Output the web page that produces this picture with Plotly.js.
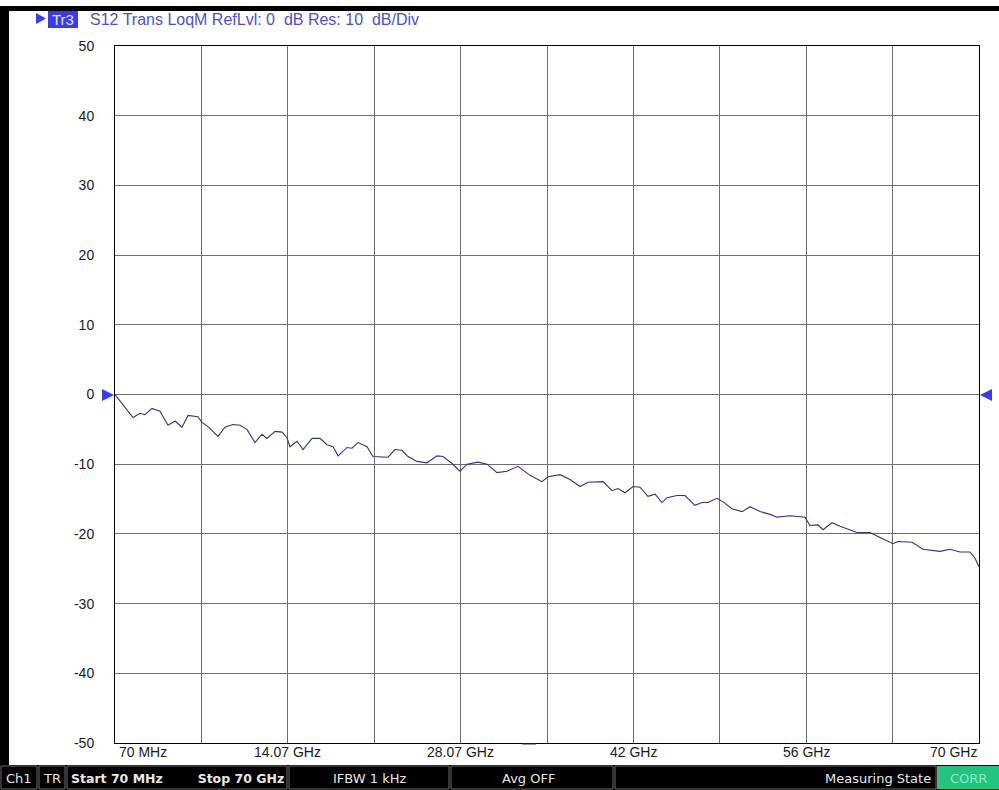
<!DOCTYPE html>
<html>
<head>
<meta charset="utf-8">
<script src="https://cdn.plot.ly/plotly-3.0.1.min.js"></script>
<style>
html,body{margin:0;padding:0;background:#fff;}
#chart{width:999px;height:790px;}
</style>
</head>
<body>
<div id="chart"></div>
<script>
// Frequency (GHz) and S12 magnitude (dB)
const freqGHz = [0.07,1.53,2.09,2.50,3.06,3.71,4.36,4.93,5.49,5.98,6.79,7.11,7.60,8.41,8.97,9.62,10.19,10.75,11.40,11.97,12.37,13.02,13.59,13.99,14.23,14.80,15.29,16.02,16.66,17.23,17.72,18.12,18.85,19.25,19.74,20.47,20.95,21.76,22.17,22.73,23.30,23.79,24.51,25.32,26.13,26.62,27.35,27.99,28.56,29.45,30.18,30.99,31.80,32.69,33.66,34.63,35.12,36.09,36.90,37.71,38.35,39.57,40.30,40.78,41.35,42.00,42.56,43.21,43.78,44.34,44.75,45.56,46.20,47.01,47.58,48.07,48.80,49.28,50.01,50.82,51.47,52.28,53.09,53.65,54.70,55.92,56.32,56.97,57.38,58.11,58.75,60.13,61.18,61.99,63.04,63.45,64.58,65.47,66.85,67.65,68.46,69.27,69.68,70.0];
const s12dB = [0,-3.3,-2.7,-2.9,-2.0,-2.4,-4.4,-3.8,-4.7,-3.0,-3.2,-4.0,-4.6,-6.0,-4.7,-4.3,-4.4,-5.0,-6.9,-5.7,-6.3,-5.3,-5.4,-6.2,-7.5,-6.7,-7.9,-6.3,-6.3,-7.2,-7.5,-8.8,-7.6,-7.7,-6.9,-7.5,-8.9,-8.9,-9.0,-7.9,-8.0,-8.9,-9.6,-9.8,-8.8,-8.9,-9.9,-11.0,-10.0,-9.7,-10.0,-11.2,-11.0,-10.3,-11.6,-12.5,-11.8,-11.5,-12.2,-13.2,-12.6,-12.5,-13.8,-13.5,-14.1,-13.2,-13.3,-14.6,-14.3,-15.5,-14.8,-14.5,-14.5,-15.9,-15.5,-15.5,-14.9,-15.4,-16.4,-16.8,-16.1,-16.8,-17.2,-17.6,-17.4,-17.6,-18.8,-18.7,-19.4,-18.4,-18.9,-19.8,-19.8,-20.5,-21.4,-21.1,-21.2,-22.2,-22.5,-22.2,-22.6,-22.6,-23.5,-24.7];

const yTicks = [-50,-40,-30,-20,-10,0,10,20,30,40,50];
const yTickText = ['-50','-40','-30','-20','-10','0','10','20','30','40','50'];
const fStart = 0.07, fStop = 70;
const xGrid = [0,1,2,3,4,5,6,7,8,9,10].map(k => fStart + k*(fStop-fStart)/10);
const xLabelText = ['70 MHz','14.07 GHz','28.07 GHz','42 GHz','56 GHz','70 GHz'];
const xLabelDiv = [0,2,4,6,8,10];
const headerText = 'S12 Trans LoqM RefLvl: 0  dB Res: 10  dB/Div';
const statusCells = [
  {x0:0,x1:38,text:'Ch1',bold:false,align:'center'},
  {x0:38,x1:66,text:'TR',bold:false,align:'center'},
  {x0:66,x1:288,text:'Start 70 MHz&nbsp;&nbsp;&nbsp;&nbsp;&nbsp;&nbsp;&nbsp;&nbsp;Stop 70 GHz',bold:true,align:'center'},
  {x0:288,x1:450,text:'IFBW 1 kHz',bold:false,align:'center'},
  {x0:450,x1:614,text:'Avg OFF',bold:false,align:'left'},
  {x0:614,x1:937,text:'Measuring State',bold:false,align:'right'}
];

const L=115, R=979, T=46, B=743;
const px = v => (v-L)/(R-L);
const py = v => (B-v)/(B-T);

const shapes = [];
const annotations = [];
const sFont = 'DejaVu Sans, Verdana, sans-serif';
const aFont = 'Liberation Sans, Arial, sans-serif';

// outer black frame
shapes.push({type:'rect',xref:'paper',yref:'paper',x0:px(0),x1:px(999),y0:py(11),y1:py(6),fillcolor:'#000',line:{width:0},layer:'above'});
shapes.push({type:'rect',xref:'paper',yref:'paper',x0:px(0),x1:px(9),y0:py(765),y1:py(6),fillcolor:'#000',line:{width:0},layer:'above'});

// status bar
shapes.push({type:'rect',xref:'paper',yref:'paper',x0:px(0),x1:px(999),y0:py(790),y1:py(765),fillcolor:'#000',line:{width:0},layer:'above'});
statusCells.forEach(c => {
  shapes.push({type:'rect',xref:'paper',yref:'paper',x0:px(c.x0+1),x1:px(c.x1-1),y0:py(789),y1:py(766),fillcolor:'#000',line:{color:'#6a6a6a',width:1},layer:'above'});
  let ax, xa;
  if (c.align==='center'){ax=(c.x0+c.x1)/2; xa='center';}
  else if (c.align==='left'){ax=c.x0+50; xa='left';}
  else {ax=c.x1-4; xa='right';}
  annotations.push({xref:'paper',yref:'paper',x:px(ax),y:py(778),xanchor:xa,yanchor:'middle',showarrow:false,
    text: c.bold ? '<b>'+c.text+'</b>' : c.text,
    font:{family:sFont,size:c.bold?12.5:13,color:'#e8e8e8'}});
});
shapes.push({type:'rect',xref:'paper',yref:'paper',x0:px(937),x1:px(999),y0:py(789),y1:py(766),fillcolor:'#22c47f',line:{width:0},layer:'above'});
annotations.push({xref:'paper',yref:'paper',x:px(968),y:py(778),xanchor:'center',yanchor:'middle',showarrow:false,text:'CORR',font:{family:sFont,size:13,color:'#8fe8bd'}});

// header
shapes.push({type:'path',xref:'paper',yref:'paper',path:`M ${px(36)} ${py(13)} L ${px(46)} ${py(18.5)} L ${px(36)} ${py(24)} Z`,fillcolor:'#3a3af0',line:{width:0}});
shapes.push({type:'rect',xref:'paper',yref:'paper',x0:px(48),x1:px(78),y0:py(28),y1:py(11),fillcolor:'#3a3af0',line:{width:0}});
annotations.push({xref:'paper',yref:'paper',x:px(63),y:py(19.5),xanchor:'center',yanchor:'middle',showarrow:false,text:'Tr3',font:{family:aFont,size:15,color:'#e6e6ff'}});
annotations.push({xref:'paper',yref:'paper',x:px(88),y:py(19.5),xanchor:'left',yanchor:'middle',showarrow:false,text:headerText,font:{family:aFont,size:16,color:'#5050c8'}});

// reference level markers
shapes.push({type:'path',xref:'paper',yref:'paper',path:`M ${px(102)} ${py(389)} L ${px(114)} ${py(395)} L ${px(102)} ${py(401)} Z`,fillcolor:'#3a3af0',line:{width:0}});
shapes.push({type:'path',xref:'paper',yref:'paper',path:`M ${px(992)} ${py(389)} L ${px(980)} ${py(395)} L ${px(992)} ${py(401)} Z`,fillcolor:'#3a3af0',line:{width:0}});
// small marker dash below axis
shapes.push({type:'line',xref:'paper',yref:'paper',x0:px(522),x1:px(536),y0:py(744),y1:py(744),line:{color:'#333',width:1}});

// x labels
xLabelDiv.forEach((d,i) => {
  const xv = px(L + d*(R-L)/10);
  let xa = 'center';
  let xx = xv;
  if (i===0){xa='left'; xx=px(117);}
  if (i===xLabelDiv.length-1){xa='right'; xx=px(979);}
  annotations.push({xref:'paper',yref:'paper',x:xx,y:py(752),xanchor:xa,yanchor:'middle',showarrow:false,text:xLabelText[i],font:{family:aFont,size:14,color:'#1a1a1a'}});
});

const trace = {
  x: freqGHz, y: s12dB, type:'scatter', mode:'lines',
  line:{color:'#33337a',width:1.1}, hoverinfo:'skip'
};

const layout = {
  width:999, height:790,
  margin:{l:L,r:999-R,t:T,b:790-B,pad:0},
  paper_bgcolor:'#ffffff', plot_bgcolor:'#ffffff',
  showlegend:false,
  xaxis:{range:[fStart,fStop],tickvals:xGrid,showticklabels:false,ticks:'',
    showgrid:true,gridcolor:'#6e6e6e',gridwidth:1,zeroline:false,
    showline:true,linecolor:'#000',linewidth:1,mirror:true,fixedrange:true},
  yaxis:{range:[-50,50],tickvals:yTicks,ticktext:yTickText,ticks:'outside',ticklen:17,tickcolor:'rgba(0,0,0,0)',
    tickfont:{family:aFont,size:14,color:'#1a1a1a'},
    showgrid:true,gridcolor:'#6e6e6e',gridwidth:1,zeroline:false,
    showline:true,linecolor:'#000',linewidth:1,mirror:true,fixedrange:true},
  shapes:shapes, annotations:annotations
};

Plotly.newPlot('chart',[trace],layout,{displayModeBar:false,staticPlot:true});
</script>
</body>
</html>
